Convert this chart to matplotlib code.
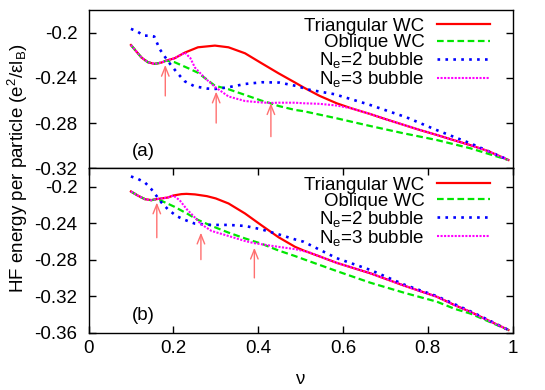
import matplotlib
matplotlib.use('Agg')
import matplotlib.pyplot as plt

plt.rcParams['font.family'] = 'Liberation Sans'
plt.rcParams['font.size'] = 13.5
plt.rcParams['mathtext.fontset'] = 'custom'
plt.rcParams['mathtext.rm'] = 'Liberation Sans'
plt.rcParams['mathtext.it'] = 'Liberation Sans:italic'
plt.rcParams['mathtext.default'] = 'rm'

labels = ['Triangular WC', 'Oblique WC', 'N$_e$=2 bubble', 'N$_e$=3 bubble']

# ---- panel (a) ----
tri_a_nu = [0.10, 0.113, 0.125, 0.14, 0.156, 0.172, 0.183, 0.203, 0.227, 0.258, 0.298, 0.33,
            0.369, 0.408, 0.448, 0.487, 0.507, 0.545, 0.585, 0.62, 0.664, 0.70, 0.742, 0.78,
            0.821, 0.86, 0.90, 0.94, 0.99]
tri_a = [-0.211, -0.2168, -0.2221, -0.2262, -0.2277, -0.2265, -0.2248, -0.2227, -0.2177, -0.2130,
         -0.2115, -0.2130, -0.2183, -0.2271, -0.2360, -0.2442, -0.2485, -0.2560, -0.2625, -0.2670,
         -0.2720, -0.2765, -0.2815, -0.2860, -0.2905, -0.2950, -0.2995, -0.3045, -0.3127]

obl_a_nu = [0.10, 0.113, 0.125, 0.14, 0.156, 0.172, 0.183, 0.203, 0.235, 0.258, 0.298, 0.33,
            0.369, 0.408, 0.429, 0.448, 0.487, 0.507, 0.585, 0.664, 0.742, 0.821, 0.90, 0.99]
obl_a = [-0.211, -0.2168, -0.2221, -0.2262, -0.2277, -0.2265, -0.2248, -0.2262, -0.2315, -0.2355,
         -0.2470, -0.2501, -0.2551, -0.2602, -0.2625, -0.2649, -0.2684, -0.2695, -0.2758, -0.2826,
         -0.2890, -0.2950, -0.3023, -0.3127]

bub2_a_nu = [0.10, 0.115, 0.13, 0.145, 0.155, 0.168, 0.188, 0.21, 0.227, 0.25, 0.28, 0.30, 0.33,
             0.37, 0.41, 0.45, 0.49, 0.52, 0.58, 0.66, 0.75, 0.82, 0.90, 0.99]
bub2_a = [-0.1967, -0.1990, -0.2027, -0.2027, -0.2035, -0.2147, -0.2257, -0.2360, -0.2431, -0.2475,
          -0.2495, -0.2498, -0.2483, -0.2454, -0.2439, -0.2442, -0.2472, -0.2505, -0.2545, -0.2635,
          -0.2750, -0.2861, -0.2979, -0.3126]

bub3_a_nu = [0.10, 0.113, 0.125, 0.14, 0.156, 0.172, 0.183, 0.203, 0.227, 0.24, 0.251, 0.274, 0.298,
             0.33, 0.369, 0.408, 0.43, 0.448, 0.487, 0.507, 0.545, 0.585, 0.62, 0.664, 0.70, 0.742,
             0.78, 0.821, 0.86, 0.90, 0.94, 0.99]
bub3_a = [-0.211, -0.2168, -0.2221, -0.2262, -0.2277, -0.2265, -0.2248, -0.2227, -0.2177, -0.2225,
          -0.2310, -0.2400, -0.2480, -0.2565, -0.2605, -0.2618, -0.2622, -0.2620, -0.2620, -0.2625,
          -0.2630, -0.2645, -0.2670, -0.2720, -0.2765, -0.2815, -0.2860, -0.2905, -0.2950, -0.2995,
          -0.3045, -0.3127]

arrow_a_nu = [0.181, 0.301, 0.430]
arrow_a_tip = [-0.2286, -0.2522, -0.2625]
arrow_a_tail = [-0.256, -0.280, -0.292]

# ---- panel (b) ----
tri_b_nu = [0.10, 0.117, 0.133, 0.148, 0.160, 0.187, 0.20, 0.219, 0.231, 0.251, 0.279, 0.30, 0.33,
            0.369, 0.408, 0.448, 0.487, 0.507, 0.545, 0.585, 0.664, 0.746, 0.821, 0.864, 0.90,
            0.94, 0.99]
tri_b = [-0.2054, -0.2101, -0.2138, -0.2149, -0.2138, -0.2120, -0.2098, -0.2083, -0.2080, -0.2086,
         -0.2105, -0.2130, -0.2185, -0.2295, -0.2425, -0.2555, -0.2660, -0.2700, -0.2765, -0.2835,
         -0.2949, -0.3088, -0.3206, -0.3300, -0.3371, -0.3460, -0.3570]

obl_b_nu = [0.10, 0.117, 0.133, 0.148, 0.160, 0.172, 0.203, 0.235, 0.258, 0.29, 0.33, 0.369,
            0.408, 0.448, 0.487, 0.507, 0.585, 0.664, 0.746, 0.821, 0.864, 0.90, 0.94, 0.99]
obl_b = [-0.2054, -0.2101, -0.2138, -0.2149, -0.2138, -0.2156, -0.2222, -0.2303, -0.2365, -0.2431,
         -0.2504, -0.2568, -0.2626, -0.2700, -0.2761, -0.2795, -0.2925, -0.3052, -0.3165, -0.3260,
         -0.3340, -0.3390, -0.3470, -0.3570]

bub2_b_nu = [0.10, 0.117, 0.133, 0.148, 0.160, 0.172, 0.187, 0.207, 0.227, 0.251, 0.29, 0.33, 0.369,
             0.408, 0.448, 0.487, 0.507, 0.585, 0.664, 0.746, 0.821, 0.864, 0.90, 0.94, 0.99]
bub2_b = [-0.1889, -0.1918, -0.1955, -0.2028, -0.2101, -0.2175, -0.2248, -0.2322, -0.2365, -0.2406,
          -0.2420, -0.2420, -0.2431, -0.2469, -0.2523, -0.2579, -0.2604, -0.2784, -0.2912, -0.3077,
          -0.3200, -0.3290, -0.3365, -0.3455, -0.3570]

bub3_b_nu = [0.10, 0.117, 0.133, 0.148, 0.160, 0.187, 0.20, 0.215, 0.231, 0.251, 0.265, 0.29, 0.33,
             0.369, 0.391, 0.448, 0.487, 0.52, 0.545, 0.585, 0.664, 0.746, 0.821, 0.864, 0.90,
             0.94, 0.99]
bub3_b = [-0.2054, -0.2101, -0.2138, -0.2149, -0.2138, -0.2120, -0.2098, -0.2150, -0.2245, -0.2340,
          -0.2410, -0.2486, -0.2541, -0.2596, -0.2620, -0.2660, -0.2685, -0.2720, -0.2765, -0.2835,
          -0.2949, -0.3088, -0.3206, -0.3300, -0.3371, -0.3460, -0.3570]

arrow_b_nu = [0.161, 0.265, 0.391]
arrow_b_tip = [-0.2175, -0.2505, -0.267]
arrow_b_tail = [-0.256, -0.280, -0.300]

xticks = [0, 0.2, 0.4, 0.6, 0.8, 1]
xtick_labels = ['0', '0.2', '0.4', '0.6', '0.8', '1']
yticks_a = [-0.2, -0.24, -0.28, -0.32]
ytick_labels_a = ['-0.2', '-0.24', '-0.28', '-0.32']
yticks_b = [-0.2, -0.24, -0.28, -0.32, -0.36]
ytick_labels_b = ['-0.2', '-0.24', '-0.28', '-0.32', '-0.36']

styles = [
    dict(color='#ff0000', lw=1.6, ls='-'),
    dict(color='#00e600', lw=1.6, dashes=(3, 1.6)),
    dict(color='#0000ff', lw=1.9, dashes=(1, 2)),
    dict(color='#ff00ff', lw=1.5, dashes=(1, 0.7)),
]

fig = plt.figure(figsize=(5.45, 3.9), dpi=100)
ax_a = fig.add_axes([0.1624, 0.5685, 0.7783, 0.4059])
ax_b = fig.add_axes([0.1624, 0.1469, 0.7783, 0.4216])


def draw_panel(ax, series, arrows, yticks, ylabels, ylim, tag):
    for (nu, e), lab, st in zip(series, labels, styles):
        ax.plot(nu, e, label=lab, dash_capstyle='butt', **st)
    for nu, tip, tail in zip(*arrows):
        ax.annotate('', xy=(nu, tip), xytext=(nu, tail),
                    arrowprops=dict(arrowstyle='->,head_length=0.5,head_width=0.2',
                                    color='#ff7070', lw=1, shrinkA=0, shrinkB=0))
    ax.set_xlim(0, 1)
    ax.set_ylim(*ylim)
    ax.set_yticks(yticks)
    ax.set_yticklabels(ylabels)
    ax.tick_params(axis='y', direction='in', length=5, width=1, right=True, pad=8)
    ax.text(0.129, 0.103, tag, transform=ax.transAxes, ha='center', va='center')
    ax.legend(loc='upper right', bbox_to_anchor=(0.9465, 0.95), frameon=False,
              markerfirst=False, borderpad=0, borderaxespad=0, handlelength=2.8,
              handletextpad=0.7, labelspacing=-0.05)
    for sp in ax.spines.values():
        sp.set_linewidth(1)


draw_panel(ax_a, [(tri_a_nu, tri_a), (obl_a_nu, obl_a), (bub2_a_nu, bub2_a), (bub3_a_nu, bub3_a)],
           (arrow_a_nu, arrow_a_tip, arrow_a_tail), yticks_a, ytick_labels_a, (-0.32, -0.18), '(a)')
draw_panel(ax_b, [(tri_b_nu, tri_b), (obl_b_nu, obl_b), (bub2_b_nu, bub2_b), (bub3_b_nu, bub3_b)],
           (arrow_b_nu, arrow_b_tip, arrow_b_tail), yticks_b, ytick_labels_b, (-0.36, -0.18), '(b)')

ax_a.tick_params(axis='x', bottom=False, top=False, labelbottom=False)
ax_b.set_xticks(xticks)
ax_b.set_xticklabels(xtick_labels)
ax_b.tick_params(axis='x', direction='in', length=5, width=1, top=True, pad=5)

fig.text(18 / 545, 1 - 168 / 390, 'HF energy per particle (e$^2$/εl$_B$)',
         rotation=90, ha='center', va='center')
fig.text(300 / 545, 10 / 390, 'ν', ha='center', va='center')

fig.savefig('out.png', dpi=100)
